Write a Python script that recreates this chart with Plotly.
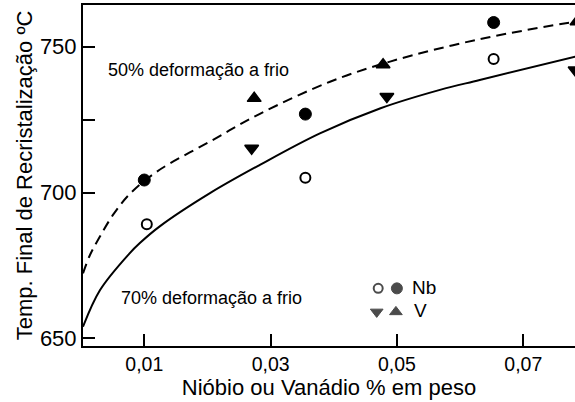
import plotly.graph_objects as go

# Niobium: 70 % cold work (open) and 50 % cold work (filled)
nb_70_x = [0.0104, 0.0355, 0.0653]
nb_70_y = [689.1, 705.1, 745.8]
nb_50_x = [0.0100, 0.0355, 0.0653]
nb_50_y = [704.3, 726.9, 758.3]

# Vanadium: 70 % cold work (down triangles) and 50 % cold work (up triangles)
v_70_x = [0.0270, 0.0484, 0.0782]
v_70_y = [715.2, 732.9, 742.0]
v_50_x = [0.0274, 0.0478, 0.0785]
v_50_y = [732.3, 743.8, 758.6]

# Trend curves
curve_50_x = [0.0003, 0.0014, 0.0030, 0.0051, 0.0077, 0.0120, 0.0204, 0.0283, 0.0394, 0.0489, 0.0631, 0.0782]
curve_50_y = [672.3, 678.6, 685.0, 692.5, 699.5, 707.2, 717.5, 727.0, 738.0, 744.9, 752.6, 758.6]
curve_70_x = [0.0003, 0.0030, 0.0076, 0.0093, 0.0125, 0.0204, 0.0283, 0.0378, 0.0474, 0.0568, 0.0631, 0.0782]
curve_70_y = [654.0, 666.6, 679.0, 682.7, 688.5, 699.8, 709.5, 720.3, 728.9, 735.2, 738.6, 746.6]

x_ticks = [0.01, 0.03, 0.05, 0.07]
x_tick_labels = ["0,01", "0,03", "0,05", "0,07"]
y_ticks = [650, 700, 725, 750]
y_tick_labels = ["650", "700", "", "750"]

FONT = "Liberation Sans, Arial, sans-serif"
BLACK = "#000000"

fig = go.Figure()

fig.add_trace(go.Scatter(x=curve_50_x, y=curve_50_y, mode="lines",
                         line=dict(color=BLACK, width=2, dash="10px,6px",
                                   shape="spline", smoothing=1.0)))
fig.add_trace(go.Scatter(x=curve_70_x, y=curve_70_y, mode="lines",
                         line=dict(color=BLACK, width=2,
                                   shape="spline", smoothing=1.0)))

fig.add_trace(go.Scatter(x=nb_70_x, y=nb_70_y, mode="markers",
                         marker=dict(symbol="circle", size=10, color="white",
                                     line=dict(color=BLACK, width=2))))
fig.add_trace(go.Scatter(x=nb_50_x, y=nb_50_y, mode="markers",
                         marker=dict(symbol="circle", size=12, color=BLACK,
                                     line=dict(color=BLACK, width=1))))
fig.add_trace(go.Scatter(x=v_70_x, y=v_70_y, mode="markers",
                         marker=dict(symbol="triangle-down", size=12, color=BLACK,
                                     line=dict(color=BLACK, width=1.5))))
fig.add_trace(go.Scatter(x=v_50_x, y=v_50_y, mode="markers",
                         marker=dict(symbol="triangle-up", size=12, color=BLACK,
                                     line=dict(color=BLACK, width=1.5))))

# Key for the symbols, drawn on an overlay axis in plot-fraction units
key_x = [0.600, 0.638, 0.597, 0.636]
key_y = [0.169, 0.169, 0.100, 0.100]
fig.add_trace(go.Scatter(x=key_x, y=key_y, xaxis="x2", yaxis="y2", mode="markers",
                         marker=dict(symbol=["circle", "circle", "triangle-down", "triangle-up"],
                                     size=[9, 11, 11, 11],
                                     color=["white", BLACK, BLACK, BLACK],
                                     line=dict(color=BLACK, width=[2, 1, 1, 1]))))

annotations = [
    dict(text="50% deformação a frio", x=0.047, y=0.809, xanchor="left", yanchor="middle", size=18),
    dict(text="70% deformação a frio", x=0.074, y=0.141, xanchor="left", yanchor="middle", size=18),
    dict(text="Nb", x=0.665, y=0.172, xanchor="left", yanchor="middle", size=19),
    dict(text="V", x=0.668, y=0.103, xanchor="left", yanchor="middle", size=19),
]
for a in annotations:
    s = a.pop("size")
    a.update(xref="paper", yref="paper", showarrow=False,
             font=dict(family=FONT, size=s, color=BLACK))

fig.update_layout(
    width=575, height=402,
    margin=dict(l=83, r=0, t=5, b=56),
    paper_bgcolor="white", plot_bgcolor="white",
    showlegend=False,
    font=dict(family=FONT, color=BLACK),
    annotations=annotations,
    xaxis=dict(range=[0.0003, 0.07818], tickvals=x_ticks, ticktext=x_tick_labels,
               ticks="inside", ticklen=12, tickwidth=2, tickcolor=BLACK,
               showline=True, linewidth=2, linecolor=BLACK, mirror=True,
               showgrid=False, zeroline=False,
               tickfont=dict(size=19.5),
               title=dict(text="Nióbio ou Vanádio % em peso", font=dict(size=22), standoff=0)),
    yaxis=dict(range=[647.4, 764.3], tickvals=y_ticks, ticktext=y_tick_labels,
               ticks="inside", ticklen=12, tickwidth=2, tickcolor=BLACK,
               showline=True, linewidth=2, linecolor=BLACK,
               showgrid=False, zeroline=False,
               tickfont=dict(size=22),
               title=dict(text="Temp. Final de Recristalização ºC", font=dict(size=22), standoff=1)),
    xaxis2=dict(overlaying="x", range=[0, 1], visible=False),
    yaxis2=dict(overlaying="y", range=[0, 1], visible=False),
)

fig.write_html("out.html")
